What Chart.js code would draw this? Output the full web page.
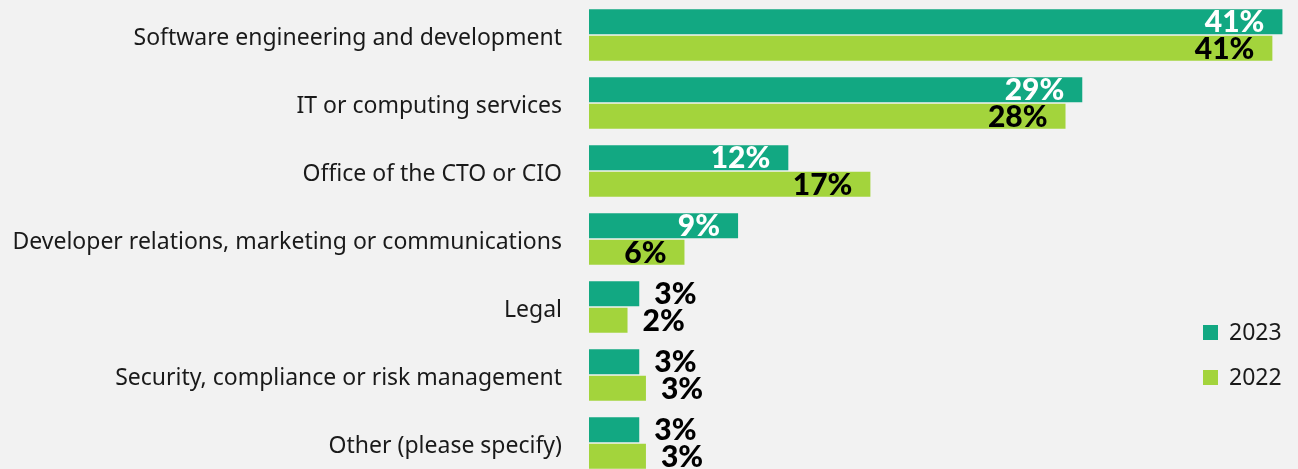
<!DOCTYPE html>
<html>
<head>
<meta charset="utf-8">
<script src="https://cdn.jsdelivr.net/npm/chart.js@4.4.1/dist/chart.umd.min.js"></script>
<style>
  html, body { margin: 0; padding: 0; background: #f2f2f2; overflow: hidden; }
  #wrap { position: relative; width: 1298px; height: 478px; }
</style>
</head>
<body>
<div id="wrap"><canvas id="chart"></canvas></div>
<script>
// categories and series (percent of respondents)
const categories = [
  'Software engineering and development',
  'IT or computing services',
  'Office of the CTO or CIO',
  'Developer relations, marketing or communications',
  'Legal',
  'Security, compliance or risk management',
  'Other (please specify)'
];
const seriesNames = ['2023', '2022'];
const values2023 = [41.4, 29.45, 11.9, 8.9, 3.0, 3.0, 3.0];
const values2022 = [40.8, 28.45, 16.8, 5.7, 2.3, 3.4, 3.4];

const colors = ['#12a882', '#a3d43c'];
const textColor = '#1a1a1a';

// value labels at the end of each bar
const barLabels = {
  id: 'barLabels',
  afterDatasetsDraw(chart) {
    const ctx = chart.ctx;
    ctx.save();
    ctx.font = '900 30px Lato, "Noto Sans", sans-serif';
    ctx.textBaseline = 'middle';
    chart.data.datasets.forEach((ds, di) => {
      const meta = chart.getDatasetMeta(di);
      meta.data.forEach((bar, i) => {
        const v = ds.data[i];
        const txt = Math.round(v) + '%';
        if (v >= 5) {
          ctx.textAlign = 'right';
          ctx.fillStyle = di === 0 ? '#ffffff' : '#000000';
          ctx.fillText(txt, bar.x - 18, bar.y + 1);
        } else {
          ctx.textAlign = 'left';
          ctx.fillStyle = '#000000';
          ctx.fillText(txt, bar.x + 15, bar.y + 1);
        }
      });
    });
    ctx.restore();
  }
};

// legend in the lower right corner
const sideLegend = {
  id: 'sideLegend',
  afterDraw(chart) {
    const ctx = chart.ctx;
    ctx.save();
    ctx.font = '23px "Noto Sans", sans-serif';
    ctx.textBaseline = 'middle';
    ctx.textAlign = 'left';
    chart.data.datasets.forEach((ds, di) => {
      const y = 325 + di * 45;
      ctx.fillStyle = ds.backgroundColor;
      ctx.fillRect(1203, y, 15, 15);
      ctx.fillStyle = textColor;
      ctx.fillText(ds.label, 1229, y + 8);
    });
    ctx.restore();
  }
};

new Chart(document.getElementById('chart'), {
  type: 'bar',
  data: {
    labels: categories,
    datasets: [
      { label: seriesNames[0], data: values2023, backgroundColor: colors[0] },
      { label: seriesNames[1], data: values2022, backgroundColor: colors[1] }
    ]
  },
  options: {
    indexAxis: 'y',
    responsive: true,
    maintainAspectRatio: false,
    animation: false,
    categoryPercentage: 0.78,
    barPercentage: 0.94,
    layout: { padding: { top: 1, right: 0, bottom: 1, left: 0 } },
    plugins: {
      legend: { display: false },
      tooltip: { enabled: false }
    },
    scales: {
      x: {
        display: false,
        min: 0,
        max: 42.33
      },
      y: {
        grid: { display: false, drawTicks: false },
        border: { display: false },
        ticks: {
          padding: 27,
          labelOffset: 3,
          color: textColor,
          font: { family: '"Noto Sans", sans-serif', size: 23 }
        },
        afterFit(scale) {
          scale.width = 589;
          scale.paddingTop = 0;
          scale.paddingBottom = 0;
        }
      }
    }
  },
  plugins: [barLabels, sideLegend]
});
</script>
</body>
</html>
